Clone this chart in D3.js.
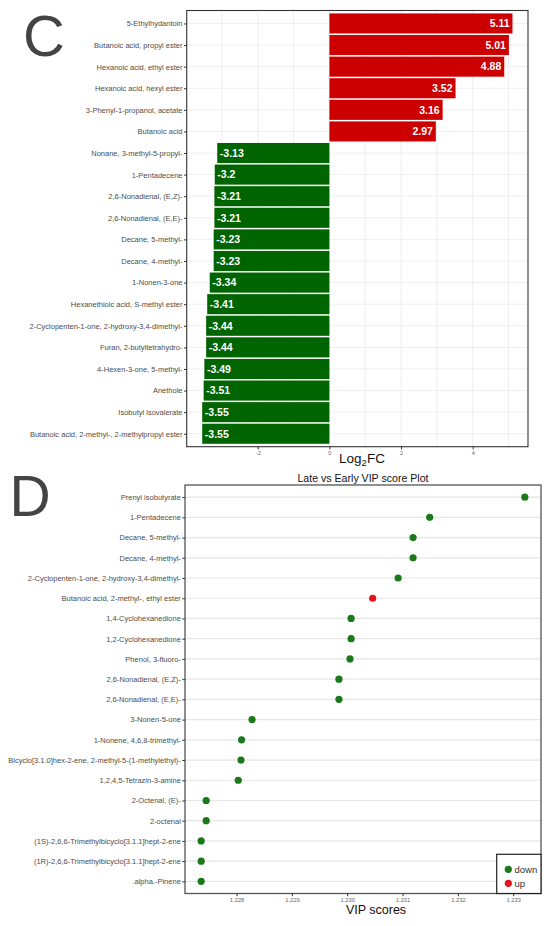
<!DOCTYPE html>
<html>
<head>
<meta charset="utf-8">
<script src="https://cdn.jsdelivr.net/npm/d3@7"></script>
<style>
  html, body { margin: 0; padding: 0; background: #fff; }
  svg { display: block; font-family: "Liberation Sans", Arial, Helvetica, sans-serif; }
</style>
</head>
<body>
<svg id="chart" width="550" height="926"></svg>
<script>
// ---------- Panel C data (Log2FC) ----------
const fcCompounds = [
  "5-Ethylhydantoin",
  "Butanoic acid, propyl ester",
  "Hexanoic acid, ethyl ester",
  "Hexanoic acid, hexyl ester",
  "3-Phenyl-1-propanol, acetate",
  "Butanoic acid",
  "Nonane, 3-methyl-5-propyl-",
  "1-Pentadecene",
  "2,6-Nonadienal, (E,Z)-",
  "2,6-Nonadienal, (E,E)-",
  "Decane, 5-methyl-",
  "Decane, 4-methyl-",
  "1-Nonen-3-one",
  "Hexanethioic acid, S-methyl ester",
  "2-Cyclopenten-1-one, 2-hydroxy-3,4-dimethyl-",
  "Furan, 2-butyltetrahydro-",
  "4-Hexen-3-one, 5-methyl-",
  "Anethole",
  "Isobutyl isovalerate",
  "Butanoic acid, 2-methyl-, 2-methylpropyl ester"
];
const fcValues = [5.11, 5.01, 4.88, 3.52, 3.16, 2.97, -3.13, -3.2, -3.21, -3.21, -3.23, -3.23, -3.34, -3.41, -3.44, -3.44, -3.49, -3.51, -3.55, -3.55];
const fcTicks = [-2, 0, 2, 4];
const fcMinorTicks = [-3, -1, 1, 3, 5];

// ---------- Panel D data (VIP scores) ----------
const vipCompounds = [
  "Prenyl isobutyrate",
  "1-Pentadecene",
  "Decane, 5-methyl-",
  "Decane, 4-methyl-",
  "2-Cyclopenten-1-one, 2-hydroxy-3,4-dimethyl-",
  "Butanoic acid, 2-methyl-, ethyl ester",
  "1,4-Cyclohexanedione",
  "1,2-Cyclohexanedione",
  "Phenol, 3-fluoro-",
  "2,6-Nonadienal, (E,Z)-",
  "2,6-Nonadienal, (E,E)-",
  "3-Nonen-5-one",
  "1-Nonene, 4,6,8-trimethyl-",
  "Bicyclo[3.1.0]hex-2-ene, 2-methyl-5-(1-methylethyl)-",
  "1,2,4,5-Tetrazin-3-amine",
  "2-Octenal, (E)-",
  "2-octenal",
  "(1S)-2,6,6-Trimethylbicyclo[3.1.1]hept-2-ene",
  "(1R)-2,6,6-Trimethylbicyclo[3.1.1]hept-2-ene",
  ".alpha.-Pinene"
];
const vipValues = [1.23321, 1.23149, 1.23119, 1.23119, 1.23092, 1.23046, 1.23007, 1.23007, 1.23005, 1.22985, 1.22985, 1.22828, 1.22809, 1.22808, 1.22803, 1.22745, 1.22745, 1.22736, 1.22736, 1.22736];
const vipDirection = ["down","down","down","down","down","up","down","down","down","down","down","down","down","down","down","down","down","down","down","down"];
const vipTicks = [1.228, 1.229, 1.230, 1.231, 1.232, 1.233];
const legendKeys = ["down", "up"];

// ---------- styles ----------
const barColor = { up: "#cc0000", down: "#006400" };
const dotColor = { down: "#1a7a1a", up: "#e0161c" };
const gridColor = "#ebebeb";
const borderColor = "#333333";
const labelColor = "#4d4d4d";

const svg = d3.select("#chart");

function expand(lo, hi) { const s = hi - lo; return [lo - 0.05 * s, hi + 0.05 * s]; }

// ================= Panel C =================
(function () {
  const L = 186.7, T = 10.5, R = 528, B = 446.7;
  const ext = d3.extent(fcValues.concat([0]));
  const x = d3.scaleLinear().domain(expand(ext[0], ext[1])).range([L, R]);
  const y = d3.scalePoint().domain(fcCompounds).range([T, B]).padding(0.6);
  const step = y.step();
  const g = svg.append("g");

  // grid
  g.append("g").selectAll("line").data(fcMinorTicks.concat(fcTicks)).join("line")
    .attr("x1", d => x(d)).attr("x2", d => x(d)).attr("y1", T).attr("y2", B)
    .attr("stroke", gridColor).attr("stroke-width", 0.8);
  g.append("g").selectAll("line").data(fcCompounds).join("line")
    .attr("x1", L).attr("x2", R).attr("y1", d => y(d)).attr("y2", d => y(d))
    .attr("stroke", gridColor).attr("stroke-width", 0.8);

  // bars
  const bh = step * 0.93;
  g.append("g").selectAll("rect").data(fcCompounds).join("rect")
    .attr("x", (d, i) => Math.min(x(0), x(fcValues[i])))
    .attr("width", (d, i) => Math.abs(x(fcValues[i]) - x(0)))
    .attr("y", d => y(d) - bh / 2)
    .attr("height", bh)
    .attr("fill", (d, i) => fcValues[i] > 0 ? barColor.up : barColor.down);

  // value labels
  g.append("g").selectAll("text").data(fcCompounds).join("text")
    .attr("x", (d, i) => fcValues[i] > 0 ? x(fcValues[i]) - 3 : x(fcValues[i]) + 2.6)
    .attr("y", d => y(d))
    .attr("dy", "0.36em")
    .attr("text-anchor", (d, i) => fcValues[i] > 0 ? "end" : "start")
    .attr("fill", "#fff").attr("font-weight", "bold").attr("font-size", 10.5)
    .text((d, i) => String(fcValues[i]));

  // border
  g.append("rect").attr("x", L).attr("y", T).attr("width", R - L).attr("height", B - T)
    .attr("fill", "none").attr("stroke", borderColor).attr("stroke-width", 1.1);

  // y axis
  const ya = g.append("g").attr("transform", `translate(${L},0)`)
    .call(d3.axisLeft(y).tickSize(2.7).tickPadding(1.5));
  ya.select(".domain").remove();
  ya.selectAll(".tick line").attr("stroke", borderColor);
  ya.selectAll(".tick text").attr("font-size", 7.5).attr("fill", labelColor)
    .attr("font-family", "'Liberation Sans', Arial, sans-serif");

  // x axis
  const xa = g.append("g").attr("transform", `translate(0,${B})`)
    .call(d3.axisBottom(x).tickValues(fcTicks).tickSize(2.7).tickPadding(2).tickFormat(d => String(d)));
  xa.select(".domain").remove();
  xa.selectAll(".tick line").attr("stroke", borderColor);
  xa.selectAll(".tick text").attr("font-size", 5.5).attr("fill", "#666")
    .attr("font-family", "'Liberation Sans', Arial, sans-serif");

  // x title Log2FC
  const t = g.append("text").attr("x", 362).attr("y", 463).attr("text-anchor", "middle")
    .attr("font-size", 13.5).attr("fill", "#111");
  t.append("tspan").text("Log");
  t.append("tspan").attr("dy", 3).attr("font-size", 9.5).text("2");
  t.append("tspan").attr("dy", -3).text("FC");

  // panel letter
  svg.append("text").attr("x", 23).attr("y", 55.5).attr("font-size", 58)
    .attr("fill", "#444").text("C");
})();

// ================= Panel D =================
(function () {
  const L = 185, T = 485, R = 541, B = 893.5;
  const ext = d3.extent(vipValues);
  const x = d3.scaleLinear().domain(expand(ext[0], ext[1])).range([L, R]);
  const y = d3.scalePoint().domain(vipCompounds).range([T, B]).padding(0.6);
  const g = svg.append("g");

  // horizontal grid only
  g.append("g").selectAll("line").data(vipCompounds).join("line")
    .attr("x1", L).attr("x2", R).attr("y1", d => y(d)).attr("y2", d => y(d))
    .attr("stroke", "#e6e6e6").attr("stroke-width", 1.2);

  // dots
  g.append("g").selectAll("circle").data(vipCompounds).join("circle")
    .attr("cx", (d, i) => x(vipValues[i]))
    .attr("cy", d => y(d))
    .attr("r", 3.6)
    .attr("fill", (d, i) => dotColor[vipDirection[i]]);

  // border
  g.append("rect").attr("x", L).attr("y", T).attr("width", R - L).attr("height", B - T)
    .attr("fill", "none").attr("stroke", "#555").attr("stroke-width", 1.3);

  // y axis
  const ya = g.append("g").attr("transform", `translate(${L},0)`)
    .call(d3.axisLeft(y).tickSize(2.7).tickPadding(1.5));
  ya.select(".domain").remove();
  ya.selectAll(".tick line").attr("stroke", borderColor);
  ya.selectAll(".tick text").attr("font-size", 7.5).attr("fill", labelColor)
    .attr("font-family", "'Liberation Sans', Arial, sans-serif");

  // x axis
  const xa = g.append("g").attr("transform", `translate(0,${B})`)
    .call(d3.axisBottom(x).tickValues(vipTicks).tickSize(2.7).tickPadding(2).tickFormat(d3.format(".3f")));
  xa.select(".domain").remove();
  xa.selectAll(".tick line").attr("stroke", borderColor);
  xa.selectAll(".tick text").attr("font-size", 5.8).attr("fill", "#666")
    .attr("font-family", "'Liberation Sans', Arial, sans-serif");

  // titles
  g.append("text").attr("x", 363).attr("y", 481.5).attr("text-anchor", "middle")
    .attr("font-size", 10.6).attr("fill", "#111").text("Late vs Early VIP score Plot");
  g.append("text").attr("x", 376).attr("y", 914).attr("text-anchor", "middle")
    .attr("font-size", 12.5).attr("fill", "#111").text("VIP scores");

  // legend
  const lg = g.append("g");
  lg.append("rect").attr("x", 496.7).attr("y", 854.3).attr("width", R - 496.7).attr("height", B - 854.3)
    .attr("fill", "#fff").attr("stroke", "#222").attr("stroke-width", 1.2);
  const ly = d3.scalePoint().domain(legendKeys).range([869.3, 883.3]);
  lg.selectAll("circle").data(legendKeys).join("circle")
    .attr("cx", 508.3).attr("cy", d => ly(d)).attr("r", 3.6).attr("fill", d => dotColor[d]);
  lg.selectAll("text").data(legendKeys).join("text")
    .attr("x", 514.5).attr("y", d => ly(d)).attr("dy", "0.35em")
    .attr("font-size", 9.5).attr("fill", "#333").text(d => d);

  svg.append("text").attr("x", 9.5).attr("y", 515.7).attr("font-size", 57)
    .attr("fill", "#444").text("D");
})();
</script>
</body>
</html>
